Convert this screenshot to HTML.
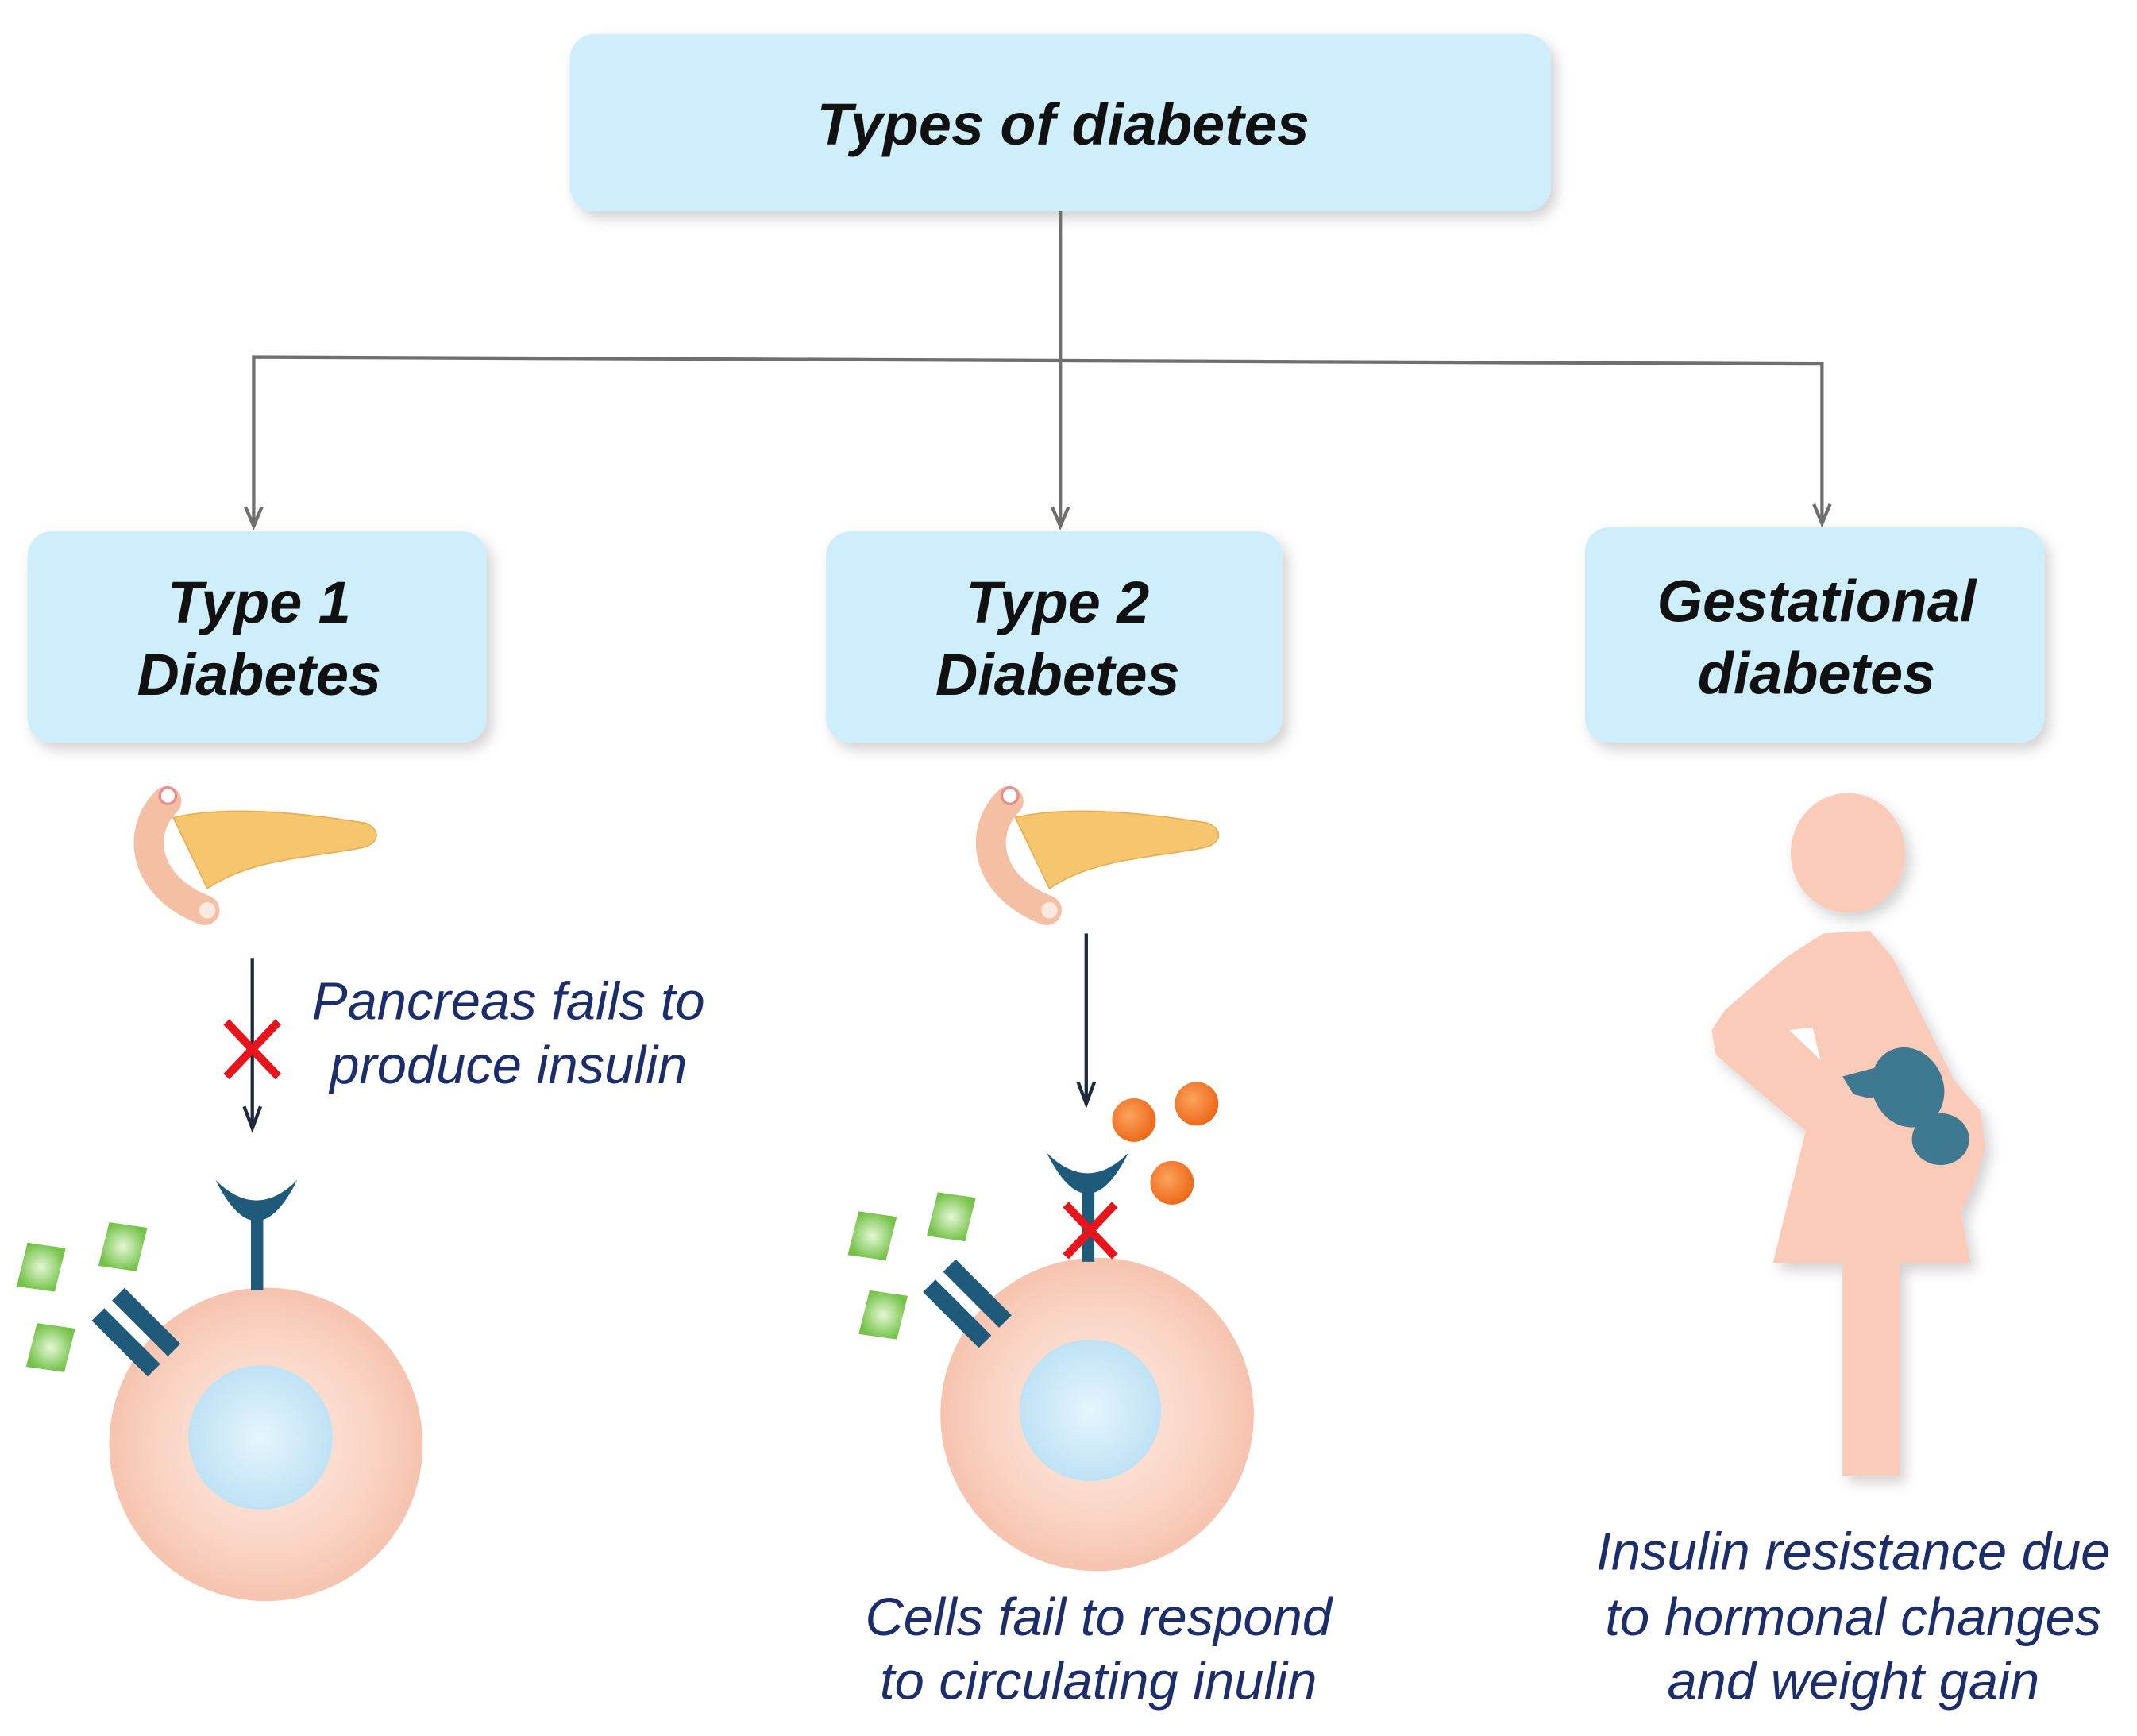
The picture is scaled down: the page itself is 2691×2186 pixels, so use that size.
<!DOCTYPE html>
<html><head><meta charset="utf-8"><style>
html,body{margin:0;padding:0;background:#fff;}
svg{display:block;}
text{font-family:"Liberation Sans",Arial,sans-serif;}
</style></head><body>
<svg width="2691" height="2186" viewBox="0 0 1568 1274" xmlns="http://www.w3.org/2000/svg">
<defs>
<filter id="sh" x="-20%" y="-20%" width="140%" height="150%"><feDropShadow dx="4" dy="5" stdDeviation="5" flood-color="#000" flood-opacity="0.18"/></filter>
<radialGradient id="cell" cx="50%" cy="50%" r="50%"><stop offset="0" stop-color="#fdeee6"/><stop offset="0.7" stop-color="#fad3c3"/><stop offset="1" stop-color="#f6c3ae"/></radialGradient>
<radialGradient id="nuc" cx="50%" cy="50%" r="50%"><stop offset="0" stop-color="#e6f5fd"/><stop offset="1" stop-color="#bfe2f5"/></radialGradient>
<radialGradient id="grn" cx="50%" cy="50%" r="50%"><stop offset="0" stop-color="#e4f7d6"/><stop offset="1" stop-color="#74c247"/></radialGradient>
<radialGradient id="org" cx="40%" cy="40%" r="60%"><stop offset="0" stop-color="#fba35c"/><stop offset="1" stop-color="#ee6a1c"/></radialGradient>
<g id="panc">
<path d="M127,600 C170,590 230,598 268,604 C280,609 278,619 266,622 C225,630 185,630 152,652 Z" fill="#f6c66e" stroke="#e9ae52" stroke-width="1"/>
<path d="M122,588 C100,610 104,650 150,668" fill="none" stroke="#f5bfa3" stroke-width="22" stroke-linecap="round"/>
<circle cx="123" cy="584" r="6" fill="#fff" stroke="#e58f8f" stroke-width="2"/>
<circle cx="152" cy="668" r="6" fill="#fce9e0"/>
</g>
<g id="dia"><path d="M-10,-18 L18,-14 L10,18 L-18,14 Z" fill="url(#grn)"/></g>
<g id="chan"><g transform="rotate(45)"><rect x="-28" y="-17" width="58" height="13" fill="#1f5a7a"/><rect x="-28" y="4" width="58" height="13" fill="#1f5a7a"/></g></g>
<g id="cup"><path d="M-30,0 Q0,60 30,0 Q0,30 -30,0 Z" fill="#1f5a7a"/></g>
</defs>

<rect x="418" y="25" width="720" height="130" rx="18" fill="#cdeefa" filter="url(#sh)"/>
<text x="780" y="106" font-size="43" font-weight="bold" font-style="italic" text-anchor="middle" fill="#111">Types of diabetes</text>

<g stroke="#6f6f6f" stroke-width="2.5" fill="none">
<line x1="778" y1="155" x2="778" y2="386"/>
<polyline points="186,386 186,262 1337,267 1337,384"/>
<polyline points="180,372 186,386 192,372"/>
<polyline points="772,372 778,386 784,372"/>
<polyline points="1331,370 1337,384 1343,370"/>
</g>

<rect x="20" y="390" width="337" height="155" rx="18" fill="#cdeefa" filter="url(#sh)"/>
<rect x="606" y="390" width="335" height="155" rx="18" fill="#cdeefa" filter="url(#sh)"/>
<rect x="1163" y="387" width="337" height="158" rx="18" fill="#cdeefa" filter="url(#sh)"/>
<g font-size="43" font-weight="bold" font-style="italic" text-anchor="middle" fill="#111">
<text x="190" y="457">Type 1</text><text x="190" y="510">Diabetes</text>
<text x="776" y="457">Type 2</text><text x="776" y="510">Diabetes</text>
<text x="1333" y="456">Gestational</text><text x="1333" y="509">diabetes</text>
</g>

<!-- Type 1 -->
<use href="#panc"/>
<g stroke="#1c2a3a" stroke-width="2.5" fill="none">
<line x1="185" y1="703" x2="185" y2="828"/>
<polyline points="179,812 185,828 191,812"/>
<line x1="797" y1="685" x2="797" y2="810"/>
<polyline points="791,794 797,810 803,794"/>
</g>
<path d="M166,750 L204,790 M204,750 L166,790" stroke="#e8141c" stroke-width="6"/>
<g font-size="39" font-style="italic" fill="#1b2d6b" text-anchor="middle">
<text x="373" y="748">Pancreas fails to</text><text x="373" y="795">produce insulin</text>
</g>
<circle cx="195" cy="1060" r="115" fill="url(#cell)"/>
<circle cx="191" cy="1055" r="53" fill="url(#nuc)"/>
<rect x="184" y="890" width="9" height="57" fill="#1f5a7a"/>
<use href="#cup" x="188" y="866"/>
<use href="#dia" x="30" y="930"/><use href="#dia" x="90" y="915"/><use href="#dia" x="37" y="989"/>
<use href="#chan" x="99" y="977"/>

<!-- Type 2 -->
<use href="#panc" x="618"/>
<circle cx="832" cy="822" r="16" fill="url(#org)"/>
<circle cx="878" cy="810" r="16" fill="url(#org)"/>
<circle cx="860" cy="868" r="16" fill="url(#org)"/>
<circle cx="805" cy="1038" r="115" fill="url(#cell)"/>
<circle cx="800" cy="1035" r="52" fill="url(#nuc)"/>
<rect x="794" y="868" width="9" height="58" fill="#1f5a7a"/>
<use href="#cup" x="798" y="846"/>
<path d="M782,884 L818,922 M818,884 L782,922" stroke="#e8141c" stroke-width="6"/>
<use href="#dia" x="640" y="907"/><use href="#dia" x="698" y="893"/><use href="#dia" x="648" y="965"/>
<use href="#chan" x="709" y="956"/>
<g font-size="39" font-style="italic" fill="#1b2d6b" text-anchor="middle">
<text x="806" y="1200">Cells fail to respond</text><text x="806" y="1247">to circulating inulin</text>
</g>

<!-- Gestational -->
<g filter="url(#sh)">
<ellipse cx="1356" cy="626" rx="42" ry="44" fill="#fbcbb9"/>
<path d="M1338,685 L1372,683 L1389,703 L1434,793 L1453,815 L1457,842 L1448,871 L1439,890 L1446,927 L1301,927 L1325,830 L1281,793 L1259,774 L1256,756 L1266,741 L1310,703 Z" fill="#fbcbb9"/>
<rect x="1352" y="925" width="42" height="158" fill="#fbcbb9"/>
</g>
<path d="M1313,756 L1330,754 L1336,778 Z" fill="#fff"/>
<g fill="#3f7891">
<ellipse cx="1400" cy="798" rx="26" ry="30" transform="rotate(-25 1400 798)"/>
<ellipse cx="1424" cy="836" rx="21" ry="19"/>
<path d="M1352,790 L1378,783 L1390,800 L1372,806 L1360,803 Z"/>
</g>
<g font-size="39" font-style="italic" fill="#1b2d6b" text-anchor="middle">
<text x="1360" y="1152">Insulin resistance due</text><text x="1360" y="1200">to hormonal changes</text><text x="1360" y="1247">and weight gain</text>
</g>
</svg>
</body></html>
